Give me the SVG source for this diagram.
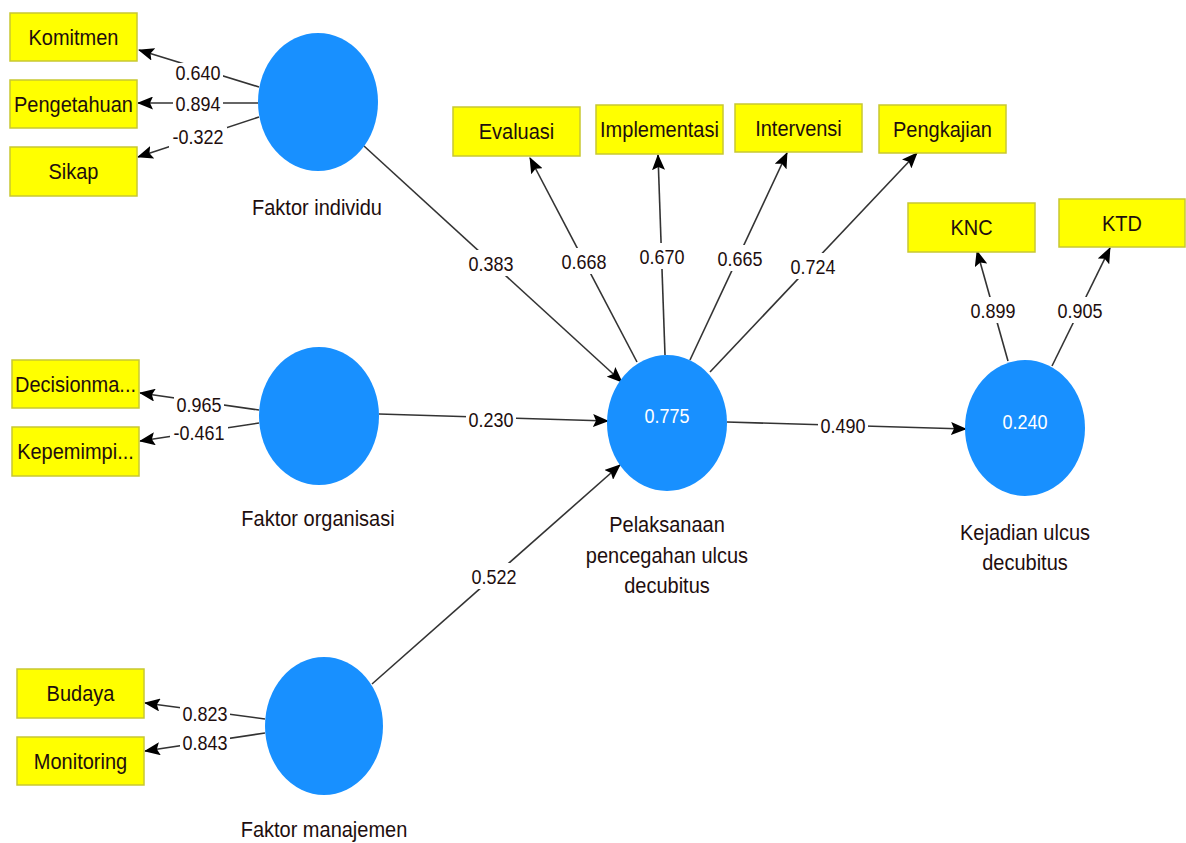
<svg xmlns="http://www.w3.org/2000/svg" width="1186" height="843" viewBox="0 0 1186 843">
<style>
.box{fill:#ffff00;stroke:#c8c832;stroke-width:1.5}
.lv{fill:#1890ff}
text{transform-box:fill-box;transform-origin:center;transform:scaleY(1.12)}
.bt{font-family:"Liberation Sans",Arial,sans-serif;font-size:20px;fill:#1e0e0e;text-anchor:middle}
.nm{font-family:"Liberation Sans",Arial,sans-serif;font-size:18px;fill:#1e0e0e;text-anchor:middle}
.wn{font-family:"Liberation Sans",Arial,sans-serif;font-size:18px;fill:#ffffff;text-anchor:middle}
.ln{stroke:#333333;stroke-width:1.6;fill:none;marker-end:url(#ah)}
.bg{fill:#ffffff}
</style>
<defs>
<marker id="ah" viewBox="0 0 16 13" refX="15" refY="6.5" markerWidth="16" markerHeight="13" markerUnits="userSpaceOnUse" orient="auto">
<path d="M0,0 L16,6.5 L0,13 L3,6.5 z" fill="#000000"/>
</marker>
</defs>
<rect width="1186" height="843" fill="#ffffff"/>

<g id="connectors">
<line class="ln" x1="259" y1="87" x2="139" y2="50"/>
<line class="ln" x1="258" y1="103" x2="138" y2="103"/>
<line class="ln" x1="259" y1="117" x2="138" y2="157"/>
<line class="ln" x1="259" y1="410" x2="140" y2="393"/>
<line class="ln" x1="259" y1="423" x2="140" y2="441"/>
<line class="ln" x1="265" y1="719" x2="145" y2="703"/>
<line class="ln" x1="265" y1="733" x2="145" y2="751"/>
<line class="ln" x1="364" y1="146" x2="622" y2="382"/>
<line class="ln" x1="379" y1="414" x2="608" y2="421"/>
<line class="ln" x1="372" y1="684" x2="620" y2="465"/>
<line class="ln" x1="637" y1="362" x2="530" y2="158"/>
<line class="ln" x1="665" y1="355" x2="658" y2="155"/>
<line class="ln" x1="690" y1="360" x2="787" y2="153"/>
<line class="ln" x1="710" y1="372" x2="917" y2="153"/>
<line class="ln" x1="727" y1="422" x2="966" y2="429"/>
<line class="ln" x1="1008" y1="361" x2="977" y2="251"/>
<line class="ln" x1="1052" y1="366" x2="1110" y2="248"/>
<g id="edge-labels">
<rect class="bg" x="173" y="63" width="50" height="21"/><text class="nm" x="198" y="79">0.640</text>
<rect class="bg" x="173" y="94" width="50" height="21"/><text class="nm" x="198" y="110">0.894</text>
<rect class="bg" x="169" y="127" width="58" height="21"/><text class="nm" x="198" y="143">-0.322</text>
<rect class="bg" x="174" y="395" width="50" height="21"/><text class="nm" x="199" y="411">0.965</text>
<rect class="bg" x="170" y="423" width="58" height="21"/><text class="nm" x="199" y="439">-0.461</text>
<rect class="bg" x="180" y="704" width="50" height="21"/><text class="nm" x="205" y="720">0.823</text>
<rect class="bg" x="180" y="733" width="50" height="21"/><text class="nm" x="205" y="749">0.843</text>
<rect class="bg" x="464" y="250" width="54" height="26"/><text class="nm" x="491" y="270">0.383</text>
<rect class="bg" x="557" y="248" width="54" height="26"/><text class="nm" x="584" y="268">0.668</text>
<rect class="bg" x="635" y="243" width="54" height="26"/><text class="nm" x="662" y="263">0.670</text>
<rect class="bg" x="713" y="245" width="54" height="26"/><text class="nm" x="740" y="265">0.665</text>
<rect class="bg" x="786" y="253" width="54" height="26"/><text class="nm" x="813" y="273">0.724</text>
<rect class="bg" x="466" y="409" width="50" height="22"/><text class="nm" x="491" y="426">0.230</text>
<rect class="bg" x="818" y="415" width="50" height="22"/><text class="nm" x="843" y="432">0.490</text>
<rect class="bg" x="467" y="563" width="54" height="26"/><text class="nm" x="494" y="583">0.522</text>
<rect class="bg" x="966" y="297" width="54" height="26"/><text class="nm" x="993" y="317">0.899</text>
<rect class="bg" x="1053" y="297" width="54" height="26"/><text class="nm" x="1080" y="317">0.905</text>
</g>
</g>

<g id="faktor-individu">
<ellipse class="lv" cx="318" cy="102" rx="60" ry="69"/>
<text class="bt" x="317" y="214">Faktor individu</text>
</g>
<g id="faktor-organisasi">
<ellipse class="lv" cx="319" cy="416" rx="60" ry="69"/>
<text class="bt" x="318" y="525">Faktor organisasi</text>
</g>
<g id="faktor-manajemen">
<ellipse class="lv" cx="324" cy="726" rx="59" ry="69"/>
<text class="bt" x="324" y="836">Faktor manajemen</text>
</g>
<g id="pelaksanaan">
<ellipse class="lv" cx="667" cy="423" rx="60" ry="68"/>
<text class="wn" x="667" y="422">0.775</text>
<text class="bt" x="667" y="531">Pelaksanaan</text>
<text class="bt" x="667" y="562">pencegahan ulcus</text>
<text class="bt" x="667" y="592">decubitus</text>
</g>
<g id="kejadian">
<ellipse class="lv" cx="1025" cy="428" rx="60" ry="68"/>
<text class="wn" x="1025" y="428">0.240</text>
<text class="bt" x="1025" y="539">Kejadian ulcus</text>
<text class="bt" x="1025" y="569">decubitus</text>
</g>

<g id="komitmen"><rect class="box" x="10" y="13" width="127" height="48"/><text class="bt" x="73.5" y="44">Komitmen</text></g>
<g id="pengetahuan"><rect class="box" x="10" y="80" width="127" height="48"/><text class="bt" x="73.5" y="111">Pengetahuan</text></g>
<g id="sikap"><rect class="box" x="10" y="147" width="127" height="49"/><text class="bt" x="73.5" y="178">Sikap</text></g>
<g id="decisionmaking"><rect class="box" x="12" y="360" width="127" height="48"/><text class="bt" x="75.5" y="391" textLength="121" lengthAdjust="spacingAndGlyphs">Decisionma...</text></g>
<g id="kepemimpinan"><rect class="box" x="12" y="427" width="127" height="49"/><text class="bt" x="75.5" y="458">Kepemimpi...</text></g>
<g id="budaya"><rect class="box" x="17" y="669" width="127" height="49"/><text class="bt" x="80.5" y="700">Budaya</text></g>
<g id="monitoring"><rect class="box" x="17" y="737" width="127" height="48"/><text class="bt" x="80.5" y="768">Monitoring</text></g>
<g id="evaluasi"><rect class="box" x="453" y="107" width="127" height="49"/><text class="bt" x="516.5" y="138">Evaluasi</text></g>
<g id="implementasi"><rect class="box" x="596" y="105" width="127" height="49"/><text class="bt" x="659.5" y="136">Implementasi</text></g>
<g id="intervensi"><rect class="box" x="735" y="104" width="127" height="48"/><text class="bt" x="798.5" y="135">Intervensi</text></g>
<g id="pengkajian"><rect class="box" x="879" y="105" width="127" height="48"/><text class="bt" x="942.5" y="136">Pengkajian</text></g>
<g id="knc"><rect class="box" x="908" y="203" width="127" height="49"/><text class="bt" x="971.5" y="234">KNC</text></g>
<g id="ktd"><rect class="box" x="1059" y="199" width="126" height="48"/><text class="bt" x="1122" y="230">KTD</text></g>
</svg>
